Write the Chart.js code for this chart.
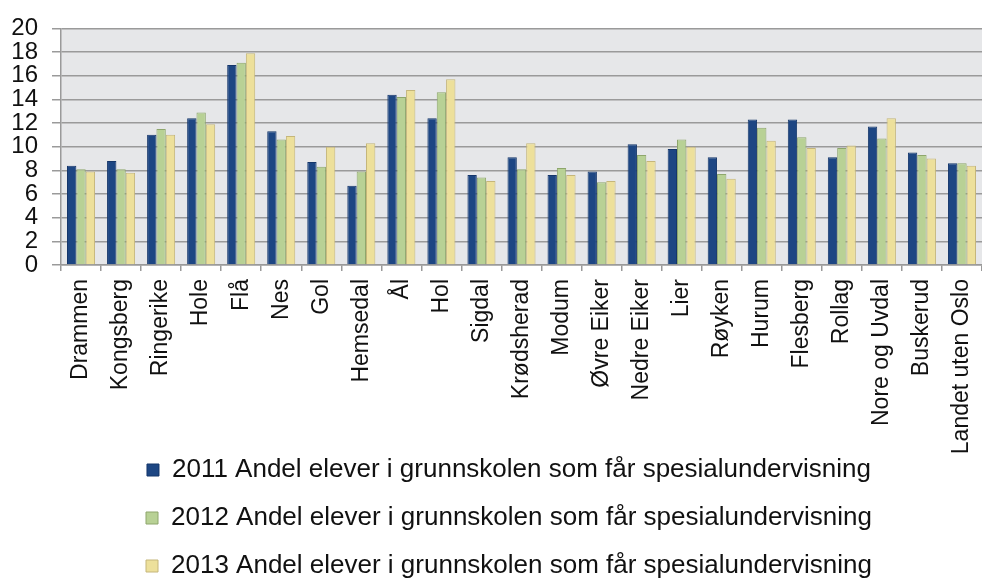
<!DOCTYPE html>
<html>
<head>
<meta charset="utf-8">
<script src="https://cdn.jsdelivr.net/npm/chart.js@4.4.1/dist/chart.umd.min.js"></script>
<style>
  html, body { margin: 0; padding: 0; background: #fff; }
  #wrap { width: 982px; height: 578px; position: relative; }
</style>
</head>
<body>
<div id="wrap"><canvas id="myChart"></canvas></div>
<script>
const kommuner = ['Drammen', 'Kongsberg', 'Ringerike', 'Hole', 'Flå', 'Nes', 'Gol', 'Hemsedal', 'Ål', 'Hol',
    'Sigdal', 'Krødsherad', 'Modum', 'Øvre Eiker', 'Nedre Eiker', 'Lier', 'Røyken', 'Hurum', 'Flesberg',
    'Rollag', 'Nore og Uvdal', 'Buskerud', 'Landet uten Oslo'];

const andel2011 = [8.4, 8.8, 11.0, 12.4, 16.9, 11.3, 8.7, 6.7, 14.4, 12.4, 7.6, 9.1, 7.6, 7.9, 10.2, 9.8, 9.1, 12.3, 12.3, 9.1, 11.7, 9.5, 8.6];
const andel2012 = [8.1, 8.1, 11.5, 12.9, 17.1, 10.6, 8.3, 7.9, 14.2, 14.6, 7.4, 8.1, 8.2, 7.0, 9.3, 10.6, 7.7, 11.6, 10.8, 9.9, 10.7, 9.3, 8.6];
const andel2013 = [7.9, 7.8, 11.0, 11.9, 17.9, 10.9, 10.0, 10.3, 14.8, 15.7, 7.1, 10.3, 7.6, 7.1, 8.8, 10.0, 7.3, 10.5, 9.9, 10.1, 12.4, 9.0, 8.4];

const yTicks = [0, 2, 4, 6, 8, 10, 12, 14, 16, 18, 20];

const seriesNames = [
    '2011 Andel elever i grunnskolen som får spesialundervisning',
    '2012 Andel elever i grunnskolen som får spesialundervisning',
    '2013 Andel elever i grunnskolen som får spesialundervisning'
];

const fontFam = '"Liberation Sans", Arial, sans-serif';

// grey plot background
const plotBg = {
    id: 'plotBg',
    beforeDraw(chart) {
        const {ctx, chartArea: a} = chart;
        ctx.save();
        ctx.fillStyle = '#e6e7e9';
        ctx.fillRect(a.left, a.top, a.right - a.left, a.bottom - a.top);
        ctx.restore();
    }
};

// legend sits partly beside the long rotated labels, so move it up a bit
const legendPlace = {
    id: 'legendPlace',
    afterLayout(chart) {
        const lg = chart.legend;
        lg.top = 435;
        lg.bottom = 578;
        lg.left = 36;
        lg.right = 982;
        lg.width = lg.right - lg.left;
    }
};

new Chart(document.getElementById('myChart'), {
    type: 'bar',
    data: {
        labels: kommuner,
        datasets: [{
            label: seriesNames[0],
            data: andel2011,
            backgroundColor: '#1d4683',
            borderColor: '#15366a',
            borderWidth: 1
        }, {
            label: seriesNames[1],
            data: andel2012,
            backgroundColor: '#b8d195',
            borderColor: '#8ea66c',
            borderWidth: 1
        }, {
            label: seriesNames[2],
            data: andel2013,
            backgroundColor: '#ede09b',
            borderColor: '#c5b67a',
            borderWidth: 1
        }]
    },
    options: {
        responsive: true,
        maintainAspectRatio: false,
        animation: false,
        categoryPercentage: 0.7,
        barPercentage: 1.0,
        layout: { padding: { top: 23, right: 0, left: 0, bottom: 0 } },
        plugins: {
            tooltip: { enabled: false },
            legend: {
                position: 'bottom',
                fullSize: false,
                maxHeight: 123,
                labels: {
                    boxWidth: 12,
                    boxHeight: 12,
                    padding: 22,
                    color: '#111',
                    font: { family: fontFam, size: 26 }
                }
            }
        },
        scales: {
            x: {
                afterFit(scale) {
                    scale.height = 190;
                    scale.paddingRight = 0;
                    scale.paddingLeft = 0;
                },
                grid: {
                    drawOnChartArea: false,
                    drawTicks: true,
                    tickLength: 6,
                    color: '#9a9a9a',
                    lineWidth: 1.5
                },
                border: { color: '#9a9a9a', width: 1.5 },
                ticks: {
                    autoSkip: false,
                    minRotation: 90,
                    maxRotation: 90,
                    padding: 8,
                    color: '#111',
                    font: { family: fontFam, size: 23 }
                }
            },
            y: {
                min: 0,
                max: 20,
                afterFit(scale) { scale.width = 61; },
                afterBuildTicks(scale) { scale.ticks = yTicks.map(v => ({ value: v })); },
                grid: {
                    color: '#9a9a9a',
                    lineWidth: 1.5,
                    tickLength: 9
                },
                border: { color: '#9a9a9a', width: 1.5 },
                ticks: {
                    autoSkip: false,
                    padding: 14,
                    color: '#111',
                    font: { family: fontFam, size: 24 }
                }
            }
        }
    },
    plugins: [plotBg, legendPlace]
});
</script>
</body>
</html>
